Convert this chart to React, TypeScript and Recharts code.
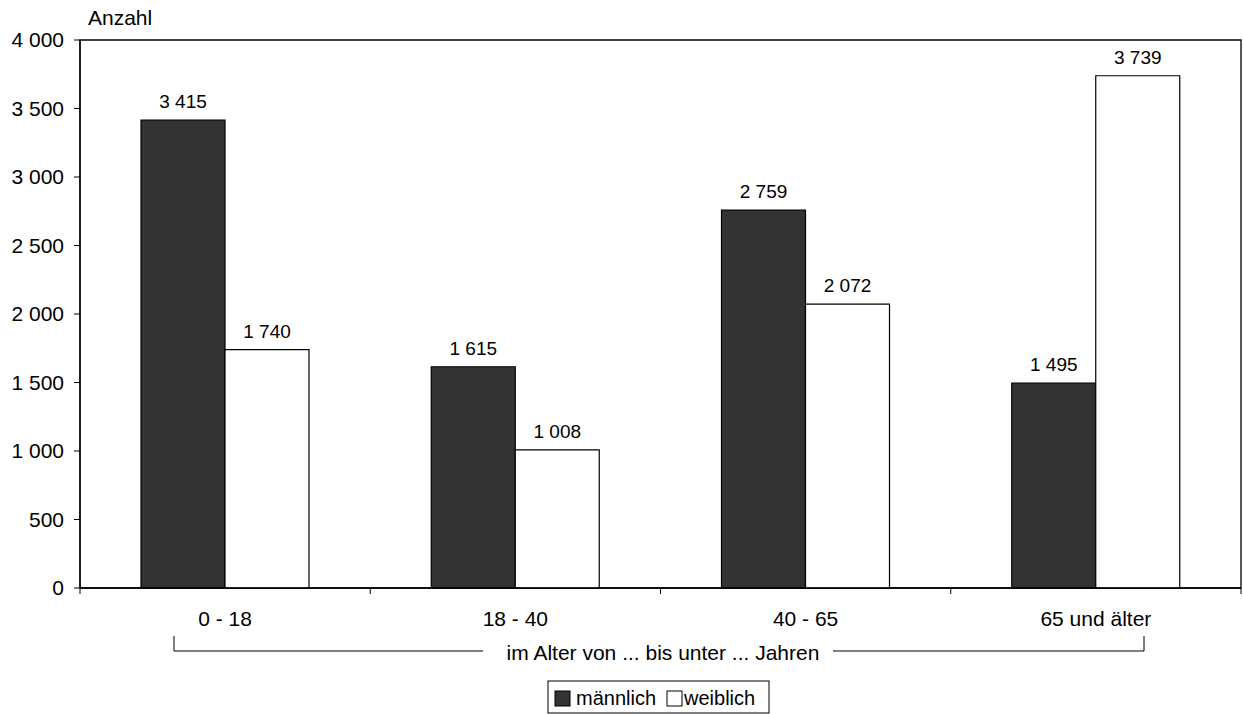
import React from 'react';
import { BarChart, Bar, XAxis, YAxis, LabelList, ReferenceArea } from 'recharts';

const categories = ['0 - 18', '18 - 40', '40 - 65', '65 und älter'];
const maennlich = [3415, 1615, 2759, 1495];
const weiblich = [1740, 1008, 2072, 3739];
const yTicks = [0, 500, 1000, 1500, 2000, 2500, 3000, 3500, 4000];
const seriesNames = ['männlich', 'weiblich'];
const yLabel = 'Anzahl';
const xTitle = 'im Alter von ... bis unter ... Jahren';

const data = categories.map((c, i) => ({ cat: c, m: maennlich[i], w: weiblich[i] }));

const W = 1243;
const H = 714;
const MARGIN = { top: 40, right: 2, bottom: 96, left: 0 };
const YAXIS_W = 80;
const XAXIS_H = 30;
const BAND = (W - MARGIN.left - MARGIN.right - YAXIS_W) / categories.length;
const FONT = "Arial, 'Liberation Sans', sans-serif";

const fmt = (v: number) => String(v).replace(/\B(?=(\d{3})+(?!\d))/g, ' ');

const XTick = (props: any) => {
  const { x, y, payload, index } = props;
  const half = BAND / 2;
  return (
    <g>
      <line x1={x - half} x2={x - half} y1={y} y2={y + 6} stroke="#000" strokeWidth={1} />
      {index === categories.length - 1 && (
        <line x1={x + half} x2={x + half} y1={y} y2={y + 6} stroke="#000" strokeWidth={1} />
      )}
      <text x={x} y={y + 38} textAnchor="middle" fill="#000" fontSize={21} fontFamily={FONT}>
        {payload.value}
      </text>
    </g>
  );
};

export default function App() {
  return (
    <div style={{ position: 'absolute', left: 0, top: 0, width: W, height: H, background: '#fff' }}>
      <BarChart
        width={W}
        height={H}
        data={data}
        margin={MARGIN}
        barGap={0}
        barSize={84}
        style={{ fontFamily: FONT }}
      >
        <XAxis
          dataKey="cat"
          height={XAXIS_H}
          tickLine={false}
          tickSize={0}
          tickMargin={0}
          axisLine={{ stroke: '#000', strokeWidth: 1.3 }}
          tick={<XTick />}
          interval={0}
        />
        <YAxis
          width={YAXIS_W}
          domain={[0, 4000]}
          ticks={yTicks}
          interval={0}
          tickSize={6}
          tickMargin={10}
          tickFormatter={fmt}
          tick={{ fill: '#000', fontSize: 21, fontFamily: FONT }}
          tickLine={{ stroke: '#000' }}
          axisLine={{ stroke: '#000', strokeWidth: 1.3 }}
        />
        <ReferenceArea y1={0} y2={4000} fill="none" fillOpacity={0} stroke="#000" strokeWidth={1.3} ifOverflow="visible" />
        <Bar dataKey="m" name={seriesNames[0]} fill="#333333" stroke="#000" strokeWidth={1.2} isAnimationActive={false}>
          <LabelList dataKey="m" position="top" offset={12} formatter={(v: any) => fmt(Number(v))} fill="#000" fontSize={19} fontFamily={FONT} />
        </Bar>
        <Bar dataKey="w" name={seriesNames[1]} fill="#ffffff" stroke="#000" strokeWidth={1.2} isAnimationActive={false}>
          <LabelList dataKey="w" position="top" offset={12} formatter={(v: any) => fmt(Number(v))} fill="#000" fontSize={19} fontFamily={FONT} />
        </Bar>
      </BarChart>
      <svg
        width={W}
        height={H}
        style={{ position: 'absolute', left: 0, top: 0, pointerEvents: 'none' }}
        fontFamily={FONT}
      >
        <text x={88} y={25} fontSize={21} fill="#000">{yLabel}</text>
        <polyline points="174,636 174,651 483,651" fill="none" stroke="#000" strokeWidth={1} />
        <polyline points="833,651 1144,651 1144,636" fill="none" stroke="#000" strokeWidth={1} />
        <text x={663} y={660} fontSize={21} fill="#000" textAnchor="middle">{xTitle}</text>
        <rect x={548} y={681} width={221} height={32} fill="#fff" stroke="#000" strokeWidth={1} />
        <rect x={555} y={691} width={15} height={15} fill="#333333" stroke="#000" strokeWidth={1} />
        <text x={576} y={705} fontSize={20} fill="#000">{seriesNames[0]}</text>
        <rect x={667} y={691} width={15} height={15} fill="#fff" stroke="#000" strokeWidth={1} />
        <text x={684} y={705} fontSize={20} fill="#000">{seriesNames[1]}</text>
      </svg>
    </div>
  );
}
